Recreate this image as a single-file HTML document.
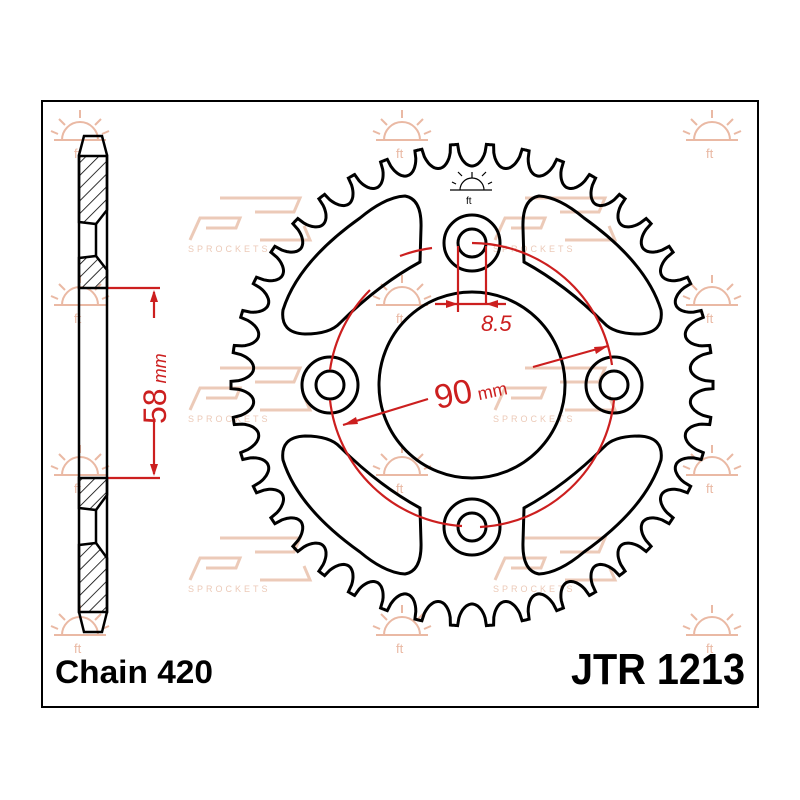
<!DOCTYPE html>
<html><head><meta charset="utf-8">
<style>
html,body{margin:0;padding:0;background:#fff;}
svg{display:block;}
text{font-family:"Liberation Sans",sans-serif;}
</style></head>
<body>
<svg id="s" width="800" height="800" viewBox="0 0 800 800" xmlns="http://www.w3.org/2000/svg">
<defs>
<pattern id="h" width="9" height="9" patternUnits="userSpaceOnUse" patternTransform="rotate(45)">
<line x1="0" y1="0" x2="0" y2="9" stroke="#000" stroke-width="1.6"/>
</pattern>
<g id="wm" fill="none" stroke="#eab9a4" stroke-width="2">
<path d="M-18,0 A18,18 0 0 1 18,0"/><line x1="-26" y1="0" x2="26" y2="0"/>
<line x1="0" y1="-22" x2="0" y2="-30"/><line x1="-15" y1="-15" x2="-21" y2="-21"/><line x1="15" y1="-15" x2="21" y2="-21"/><line x1="-22" y1="-6" x2="-29" y2="-9"/><line x1="22" y1="-6" x2="29" y2="-9"/>
<text x="-6" y="18" font-size="13" fill="#eab9a4" stroke="none">ft</text>
</g>
<g id="logo" fill="none" stroke="#eccab8" stroke-width="3">
<path d="M-60,20 L-50,-2 L-10,-2 L-14,8 L-44,8"/><path d="M-30,-22 L50,-22 L44,-8 L5,-8"/><path d="M10,20 L60,20 L54,6"/>
<text x="-62" y="32" font-size="9" fill="#eccab8" stroke="none" letter-spacing="3">SPROCKETS</text>
</g>
</defs>
<rect x="42" y="101" width="716" height="606" fill="none" stroke="#000" stroke-width="2"/>
<use href="#wm" x="80" y="140"/><use href="#wm" x="402" y="140"/><use href="#wm" x="712" y="140"/>
<use href="#wm" x="80" y="305"/><use href="#wm" x="402" y="305"/><use href="#wm" x="712" y="305"/>
<use href="#wm" x="80" y="475"/><use href="#wm" x="402" y="475"/><use href="#wm" x="712" y="475"/>
<use href="#wm" x="80" y="635"/><use href="#wm" x="402" y="635"/><use href="#wm" x="712" y="635"/>
<use href="#logo" x="250" y="220"/><use href="#logo" x="555" y="220"/>
<use href="#logo" x="250" y="390"/><use href="#logo" x="555" y="390"/>
<use href="#logo" x="250" y="560"/><use href="#logo" x="555" y="560"/>

<path id="teeth" fill="none" stroke="#000" stroke-width="3"/>
<g fill="none" stroke="#000" stroke-width="3">
<circle cx="472" cy="385" r="93"/>
<circle cx="472" cy="243" r="28"/><circle cx="472" cy="243" r="14"/>
<circle cx="472" cy="527" r="28"/><circle cx="472" cy="527" r="14"/>
<circle cx="330" cy="385" r="28"/><circle cx="330" cy="385" r="14"/>
<circle cx="614" cy="385" r="28"/><circle cx="614" cy="385" r="14"/>
<g id="win"><path d="M405,196 Q422,199 421,228 L420,262 Q378,285 340,323 Q330,334 305,334 Q280,333 283,310 Q298,262 360,218 Q385,197 405,196 Z"/></g>
<use href="#win" transform="translate(944,0) scale(-1,1)"/>
<use href="#win" transform="translate(0,770) scale(1,-1)"/>
<use href="#win" transform="translate(944,770) scale(-1,-1)"/>
</g>
<g fill="none" stroke="#000" stroke-width="1.2">
<path d="M460,190 A12,12 0 0 1 484,190"/><line x1="450" y1="190" x2="492" y2="190"/>
<line x1="472" y1="172" x2="472" y2="178"/><line x1="462" y1="176" x2="458" y2="172"/><line x1="482" y1="176" x2="486" y2="172"/><line x1="456" y1="184" x2="452" y2="182"/><line x1="488" y1="184" x2="492" y2="182"/>
<text x="466" y="204" font-size="10" fill="#000" stroke="none">ft</text>
</g>

<g fill="none" stroke="#cc1f1f" stroke-width="2.2">
<path d="M472,243 A142,142 0 0 1 612,365"/>
<path d="M614,400 A142,142 0 0 1 480,527"/>
<path d="M462,526 A142,142 0 0 1 330,400"/>
<path d="M330,370 A142,142 0 0 1 370,290"/>
<path d="M400,256 A142,142 0 0 1 432,248"/>
<line x1="343" y1="425" x2="428" y2="399"/>
<line x1="533" y1="367" x2="608" y2="346"/>
<line x1="458" y1="246" x2="458" y2="312"/>
<line x1="486" y1="246" x2="486" y2="305"/>
<line x1="435" y1="304" x2="506" y2="304"/>
<line x1="107" y1="288" x2="160" y2="288"/>
<line x1="107" y1="478" x2="160" y2="478"/>
<line x1="154" y1="292" x2="154" y2="318"/>
<line x1="154" y1="420" x2="154" y2="474"/>
</g>
<g fill="#cc1f1f">
<polygon points="343,425 356,417 358,424"/>
<polygon points="608,346 594,347 596,354"/>
<polygon points="458,304 446,300 446,308"/>
<polygon points="486,304 498,300 498,308"/>
<polygon points="154,290 150,302 158,302"/>
<polygon points="154,476 150,464 158,464"/>
</g>
<text x="481" y="331" font-size="22" fill="#cc1f1f" font-style="italic">8.5</text>
<text x="434" y="404" font-size="34" fill="#cc1f1f" transform="rotate(-12 460 392)">90<tspan font-size="18"> mm</tspan></text>
<text x="0" y="0" font-size="32" fill="#cc1f1f" transform="translate(166,424) rotate(-90)">58<tspan font-size="18" font-style="italic"> mm</tspan></text>

<g stroke="#000" stroke-width="2.5">
<path d="M84,136 L102,136 L107,155 L107,612 L102,632 L84,632 L79,612 L79,155 Z" fill="none"/>
<path d="M79,156 L107,156 L107,210 L96,224 L79,222 Z" fill="url(#h)"/>
<path d="M79,258 L96,256 L107,270 L107,288 L79,288 Z" fill="url(#h)"/>
<path d="M79,478 L107,478 L107,495 L96,510 L79,508 Z" fill="url(#h)"/>
<path d="M79,545 L96,543 L107,558 L107,612 L79,612 Z" fill="url(#h)"/>
<line x1="96" y1="224" x2="96" y2="256"/><line x1="96" y1="510" x2="96" y2="543"/>
</g>

<text x="55" y="683" font-size="32" font-weight="bold" fill="#000" textLength="158" lengthAdjust="spacingAndGlyphs">Chain 420</text>
<text x="571" y="684" font-size="44" font-weight="bold" fill="#000" textLength="174" lengthAdjust="spacingAndGlyphs">JTR 1213</text>
</svg>
<script>
(function(){
var cx=472,cy=385,N=42,Rt=241,Rr=219,pts=[],M=1680;
for(var i=0;i<=M;i++){
 var t=i/M*2*Math.PI, p=(t*N/(2*Math.PI))%1;
 var d=Math.abs(p-0.5)*2;
 var f;
 if(d>0.8) f=1; else { var u=d/0.8; f=1-Math.sqrt(Math.max(0,1-u*u)); f=Math.min(1,f);}
 var r=Rr+(Rt-Rr)*f;
 var a=t-Math.PI/2+Math.PI/N;
 pts.push((cx+r*Math.cos(a)).toFixed(1)+","+(cy+r*Math.sin(a)).toFixed(1));
}
document.getElementById("teeth").setAttribute("d","M"+pts.join(" L")+"Z");
})();
</script>
</body></html>
